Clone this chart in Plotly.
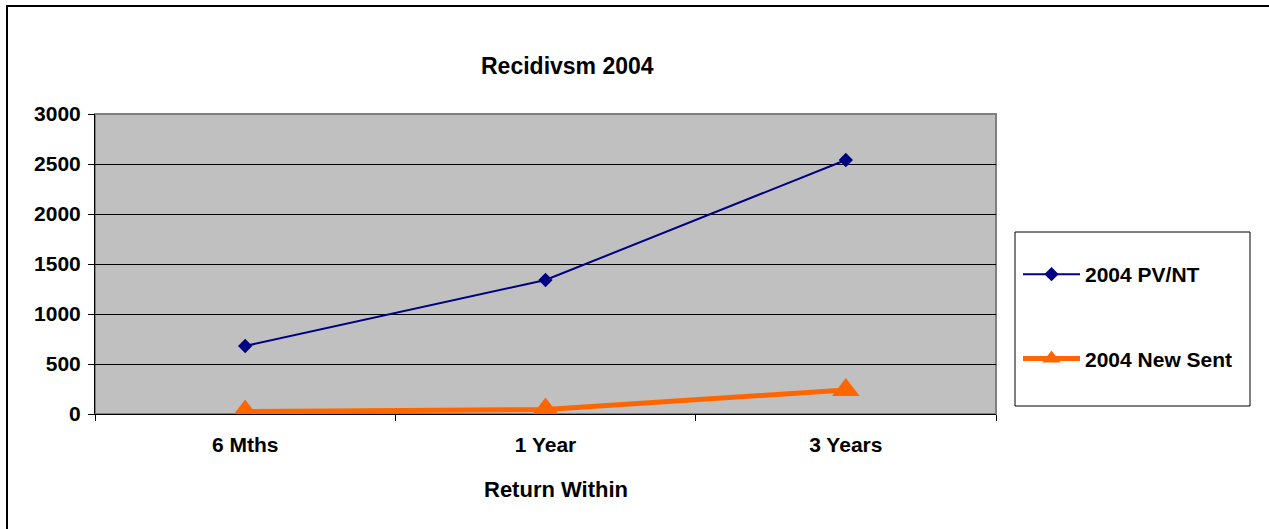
import plotly.graph_objects as go

categories = ["6 Mths", "1 Year", "3 Years"]
pvnt = [680, 1340, 2540]
new_sent = [25, 45, 240]
series_names = ["2004 PV/NT", "2004 New Sent"]
y_ticks = [0, 500, 1000, 1500, 2000, 2500, 3000]

FONT = "Arial, Liberation Sans, sans-serif"
L, T = 95, 114
PW, PH = 901, 300
W, H = 1269, 529
R, B = W - L - PW, H - T - PH

def px_x(px):
    return (px - L) / PW

def px_y(py):
    return (T + PH - py) / PH

fig = go.Figure()
fig.add_trace(go.Scatter(
    x=categories, y=pvnt, name=series_names[0], mode="lines+markers",
    line=dict(color="#000080", width=2),
    marker=dict(symbol="diamond", size=11, color="#000080"),
    legendgroup="a",
))
fig.add_trace(go.Scatter(
    x=categories, y=new_sent, name=series_names[1], mode="lines+markers",
    line=dict(color="#FF6600", width=5),
    marker=dict(symbol="triangle-up", size=24, color="#FF6600"),
    legendgroup="b",
))

fig.update_layout(
    width=W, height=H,
    margin=dict(l=L, r=R, t=T, b=B),
    paper_bgcolor="white",
    plot_bgcolor="#C0C0C0",
    font=dict(family=FONT, size=21, color="black"),
    showlegend=True,
    legend=dict(
        x=px_x(1018), xanchor="left", y=px_y(254), yanchor="top",
        bgcolor="rgba(0,0,0,0)", borderwidth=0,
        font=dict(family=FONT, size=21, color="black", weight="bold"),
        itemwidth=57, traceorder="grouped", tracegroupgap=54,
    ),
    xaxis=dict(
        type="category", tickson="boundaries", range=[-0.5, 2.5],
        showline=True, linecolor="black", linewidth=1,
        ticks="outside", ticklen=6, tickcolor="black",
        showgrid=False, zeroline=False, ticklabelstandoff=12,
        tickfont=dict(family=FONT, size=21, color="black", weight="bold"),
    ),
    yaxis=dict(
        range=[0, 3000], tickvals=y_ticks,
        showline=True, linecolor="black", linewidth=1,
        ticks="outside", ticklen=6, tickcolor="black", ticklabelstandoff=3,
        showgrid=True, gridcolor="black", gridwidth=1, zeroline=False,
        tickfont=dict(family=FONT, size=21, color="black", weight="bold"),
    ),
    shapes=[
        dict(type="rect", xref="paper", yref="paper",
             x0=0, x1=1, y0=0, y1=1, line=dict(color="#808080", width=2), layer="below"),
        dict(type="rect", xref="paper", yref="paper",
             x0=px_x(1015), x1=px_x(1250), y0=px_y(406), y1=px_y(232),
             line=dict(color="black", width=1)),
        dict(type="rect", xref="paper", yref="paper",
             x0=px_x(7), x1=px_x(1300), y0=px_y(560), y1=px_y(6),
             line=dict(color="black", width=2)),
    ],
    annotations=[
        dict(text="<b>Recidivsm 2004</b>", xref="paper", yref="paper",
             x=px_x(567), y=px_y(66), xanchor="center", yanchor="middle",
             showarrow=False, font=dict(family=FONT, size=23, color="black")),
        dict(text="<b>Return Within</b>", xref="paper", yref="paper",
             x=px_x(556), y=px_y(489), xanchor="center", yanchor="middle",
             showarrow=False, font=dict(family=FONT, size=22, color="black")),
    ],
)

fig.write_html("out.html", config={"displayModeBar": False},
               post_script="document.body.style.margin='0';")
